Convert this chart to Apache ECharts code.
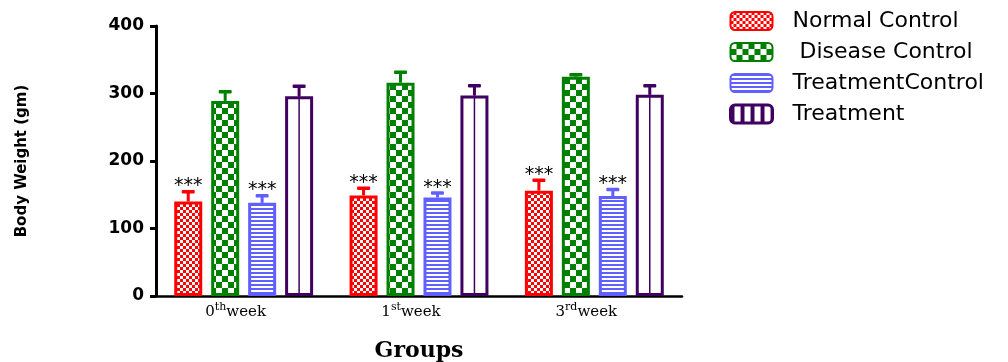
<!DOCTYPE html>
<html>
<head>
<meta charset="utf-8">
<script src="https://cdn.jsdelivr.net/npm/echarts@6/dist/echarts.min.js"></script>
<style>
  html, body { margin: 0; padding: 0; background: #ffffff; }
  #chart { width: 1008px; height: 362px; }
</style>
</head>
<body>
<div id="chart"></div>
<script>
// Week groups on the x axis (number + ordinal suffix drawn as superscript)
const weekNumbers = ['0', '1', '3'];
const weekSuffixes = ['th', 'st', 'rd'];

// Series names (legend order)
const seriesNames = ['Normal Control', ' Disease Control', 'TreatmentControl', 'Treatment'];

// Mean body weight (gm) per week
const normalControl    = [140, 149, 156];
const diseaseControl   = [289, 316, 325];
const treatmentControl = [138, 146, 148];
const treatment        = [296, 297, 298];

// Standard error of the mean per week
const normalControlSem    = [15, 11, 16];
const diseaseControlSem   = [14, 16, 3];
const treatmentControlSem = [11, 7, 10];
const treatmentSem        = [15, 15, 14];

// Significance marks per series
const significance = ['***', '', '***', ''];

// Y axis scale
const yMin = 0, yMax = 400, yInterval = 100;

const categories = weekNumbers.map((n, i) => n + weekSuffixes[i] + 'week');
const means = [normalControl, diseaseControl, treatmentControl, treatment];
const sems = [normalControlSem, diseaseControlSem, treatmentControlSem, treatmentSem];

const colors = ['#ff0000', '#008000', '#6060ff', '#3f0060'];
const BAR_W = 28;
const BAR_GAP = '32%';

// Fill patterns drawn on small canvases and tiled inside the bars
function makePattern(w, h, draw) {
  const c = document.createElement('canvas');
  c.width = w; c.height = h;
  draw(c.getContext('2d'));
  return { image: c, repeat: 'repeat' };
}
const fills = [
  makePattern(6, 6, ctx => {           // fine red checker
    ctx.fillStyle = '#ff0000'; ctx.fillRect(0, 0, 6, 6);
    ctx.fillStyle = '#ffffff'; ctx.fillRect(0, 0, 3, 3); ctx.fillRect(3, 3, 3, 3);
  }),
  makePattern(12, 12, ctx => {         // coarse green checker
    ctx.fillStyle = '#008000'; ctx.fillRect(0, 0, 12, 12);
    ctx.fillStyle = '#ffffff'; ctx.fillRect(0, 0, 6, 6); ctx.fillRect(6, 6, 6, 6);
  }),
  makePattern(4, 4, ctx => {           // horizontal blue stripes
    ctx.fillStyle = '#6060ff'; ctx.fillRect(0, 0, 4, 2);
    ctx.fillStyle = '#ffffff'; ctx.fillRect(0, 2, 4, 2);
  }),
  '#ffffff'                            // open purple bar
];
// Legend swatch for the open bar: purple with white vertical slots
const treatmentSwatch = makePattern(10, 4, ctx => {
  ctx.fillStyle = '#3f0060'; ctx.fillRect(0, 0, 10, 4);
  ctx.fillStyle = '#ffffff'; ctx.fillRect(4, 0, 6, 4);
});

const barSeries = seriesNames.map((name, k) => ({
  name: name,
  type: 'bar',
  barWidth: BAR_W,
  barGap: BAR_GAP,
  data: means[k],
  itemStyle: { color: fills[k], borderColor: colors[k], borderWidth: 3 },
  emphasis: { disabled: true },
  z: 2
}));

// Error bars (upper whisker + cap), significance stars and centre rule of the open bar
const errorSeries = seriesNames.map((name, k) => ({
  name: 'sem' + k,
  type: 'custom',
  coordinateSystem: 'cartesian2d',
  encode: { x: 0, y: 1 },
  data: means[k].map((m, i) => [i, m, sems[k][i]]),
  z: 5,
  silent: true,
  clip: false,
  renderItem: function (params, api) {
    const cat = api.value(0), mean = api.value(1), sem = api.value(2);
    const layout = api.barLayout({ barWidth: BAR_W, barGap: BAR_GAP, count: seriesNames.length });
    const off = layout[k].offsetCenter;
    const base = api.coord([cat, mean]);
    const top = api.coord([cat, mean + sem]);
    const zero = api.coord([cat, 0]);
    const x = base[0] + off;
    const children = [];
    if (k === 3) {
      children.push({
        type: 'line',
        shape: { x1: x, y1: base[1], x2: x, y2: zero[1] },
        style: { stroke: colors[k], lineWidth: 1.5 }
      });
    }
    children.push({
      type: 'line',
      shape: { x1: x, y1: base[1], x2: x, y2: top[1] },
      style: { stroke: colors[k], lineWidth: 3 }
    });
    children.push({
      type: 'rect',
      shape: { x: x - 6.5, y: top[1] - 1.5, width: 13, height: 3.5, r: 1 },
      style: { fill: colors[k] }
    });
    if (significance[k]) {
      children.push({
        type: 'text',
        x: x, y: top[1] - 5,
        style: {
          text: significance[k],
          fill: '#000000',
          font: '19px "DejaVu Sans"',
          textAlign: 'center',
          textVerticalAlign: 'middle'
        }
      });
    }
    return { type: 'group', children: children };
  }
}));

const chart = echarts.init(document.getElementById('chart'), null, { renderer: 'canvas' });
chart.setOption({
  animation: false,
  backgroundColor: '#ffffff',
  grid: { left: 156, right: 326, top: 26, bottom: 66, containLabel: false, outerBoundsMode: 'none' },
  legend: {
    data: seriesNames.map((name, k) => k === 3
      ? { name: name, itemStyle: { color: treatmentSwatch, borderColor: colors[k], borderWidth: 3 } }
      : { name: name }),
    orient: 'vertical',
    left: 729,
    top: 10,
    padding: 0,
    itemWidth: 42,
    itemHeight: 18,
    itemGap: 9,
    selectedMode: false,
    formatter: name => '{t|' + name + '}',
    textStyle: {
      rich: {
        t: { fontFamily: 'DejaVu Sans', fontSize: 22, lineHeight: 24, color: '#000000', padding: [0, 0, 0, 15] }
      }
    }
  },
  xAxis: {
    type: 'category',
    data: categories,
    name: 'Groups',
    nameLocation: 'middle',
    nameGap: 44,
    nameTextStyle: { fontFamily: 'DejaVu Serif', fontWeight: 'bold', fontSize: 22, color: '#000000' },
    axisLine: { lineStyle: { color: '#000000', width: 2.5 } },
    axisTick: { alignWithLabel: true, length: 7, lineStyle: { color: '#000000', width: 3 } },
    axisLabel: {
      margin: 6,
      padding: [0, 16, 0, 0],
      formatter: (value, idx) => '{n|' + weekNumbers[idx] + '}{s|' + weekSuffixes[idx] + '}{w|week}',
      rich: {
        n: { fontFamily: 'DejaVu Serif', fontSize: 15, lineHeight: 20, color: '#000000' },
        s: { fontFamily: 'DejaVu Serif', fontSize: 11, lineHeight: 20, color: '#000000', verticalAlign: 'top' },
        w: { fontFamily: 'DejaVu Serif', fontSize: 15, lineHeight: 20, color: '#000000' }
      }
    },
    splitLine: { show: false }
  },
  yAxis: {
    type: 'value',
    min: yMin,
    max: yMax,
    interval: yInterval,
    name: 'Body Weight (gm)',
    nameLocation: 'middle',
    nameGap: 126,
    nameTextStyle: { fontFamily: 'DejaVu Sans', fontWeight: 'bold', fontSize: 15, color: '#000000' },
    axisLine: { show: true, lineStyle: { color: '#000000', width: 3 } },
    axisTick: { show: true, length: 6, lineStyle: { color: '#000000', width: 3 } },
    axisLabel: { margin: 12, fontFamily: 'DejaVu Sans', fontWeight: 'bold', fontSize: 17, color: '#000000' },
    splitLine: { show: false }
  },
  series: barSeries.concat(errorSeries)
});
</script>
</body>
</html>
